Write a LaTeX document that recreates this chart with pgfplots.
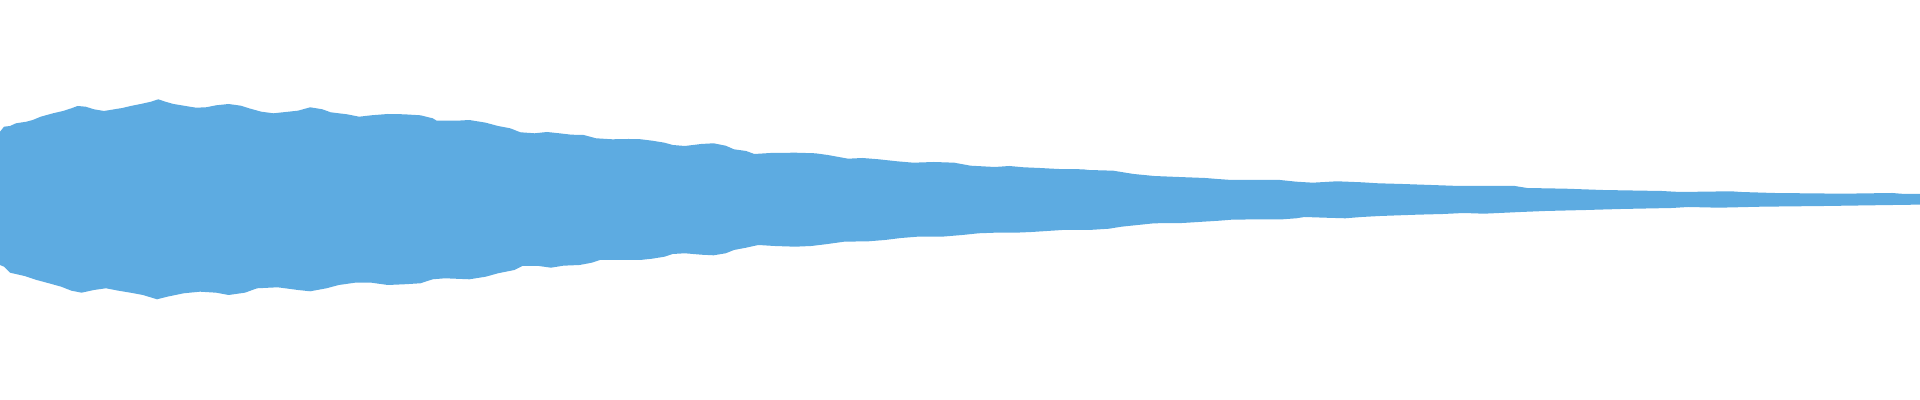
\documentclass[border=0pt]{standalone}
\usepackage{pgfplots}
\pgfplotsset{compat=1.18}
\definecolor{wave}{RGB}{93,171,225}
\begin{document}
\begin{tikzpicture}
\begin{axis}[
  scale only axis, width=19.2cm, height=4cm,
  xmin=0, xmax=1920, ymin=0, ymax=400, y dir=reverse,
  axis line style={draw=none}, ticks=none,
]
\addplot[fill=wave, draw=none] coordinates {
(0,131.7) (4,126.7) (10,126) (16,123.3) (26.5,121.7) (32.7,120) (40.8,116.7) (53,113.3) (63,111) (71.4,108.3) (77.6,106) (85.7,106.7) (93.9,109.3) (104,111) (114.3,109.3) (122.4,108) (130.6,106) (140.8,104) (151,101.7) (158.4,99.3) (165.3,101.7) (173.5,104) (183.7,105.7) (196,107.7) (206,107.3) (216.3,105.3) (228.6,104) (240.8,105.7) (249,108.3) (261.2,111.7) (273.5,113.3) (285.7,112) (298,110.7) (310.2,107.3) (322.4,109.3) (330.6,112.3) (347,114.3) (359.2,116.7) (371.4,115.3) (387.8,114) (404,114.3) (420.4,115.3) (432.7,118.3) (436.7,120.7) (457.1,120.7) (469.4,120) (485.7,122.7) (498,126) (510.2,128.3) (520.4,132.3) (534.7,133.3) (547,132) (559.2,133.3) (571.4,134.7) (583.7,135) (596,138.3) (612.2,139.3) (628.6,139) (640,139.2)
(652.2,140.7) (664.5,142.7) (672.7,145) (684.9,146) (701.2,144) (713.5,143.3) (725.7,145.7) (733.9,149.3) (746.1,151) (754.3,154) (770.6,153) (795.1,152.7) (815.4,153.3) (827.7,155) (848.1,158.7) (862.4,158) (878.7,159.3) (897,161.3) (913.4,162.7) (933.8,162) (954.2,162.7) (970.5,165.7) (995,167) (1009.3,166) (1023.5,167.3) (1039.8,168) (1058.2,169) (1082.7,169.3) (1088.8,170) (1113.3,170.7) (1125.5,172.7) (1133.7,174) (1154.1,176) (1178.6,177) (1205.1,178) (1217.3,179) (1231.6,180) (1280,180)
(1296.3,181.7) (1312.7,182.7) (1337.1,181.3) (1361.6,182.3) (1378,183.3) (1402.4,184) (1431,185) (1459.6,186) (1514.8,186) (1527,188) (1565.7,188.7) (1602.4,190) (1661.6,191) (1680,192) (1731,191.3) (1741.2,192) (1774,193) (1843.3,193.7) (1892.2,193) (1904.5,194) (1920,194)
(1920,204.7) (1914.7,204.7) (1872.4,205.3) (1824.6,206) (1761.6,206.7) (1718.9,207.7) (1688.2,207) (1671.8,208) (1620.8,209) (1586.1,210) (1545.3,211) (1520.8,212) (1484,213.7) (1463.7,213) (1443.3,214) (1416.7,214.7) (1380,216) (1361.6,217) (1345.3,218.3) (1324.9,217.7) (1304.5,217) (1296.3,218.3) (1280,219.5)
(1260.4,219.3) (1231.6,219.7) (1219.4,220.7) (1203.1,221.7) (1182.7,223) (1154.1,223.3) (1137.8,225) (1121.4,226.7) (1109.2,228.7) (1088.8,230) (1062.3,230) (1031.7,232) (1015.4,232.7) (995,232.7) (978.6,233.3) (962.3,235) (941.9,236.7) (917.4,236.7) (901.1,238) (884.8,240) (868.5,241.3) (844,241.7) (827.7,244) (811.4,246) (795.1,246.7) (774.6,246) (758.3,245) (746.1,247.7) (733.9,250) (725.7,253.3) (713.5,255.3) (701.2,254.7) (684.9,253.3) (672.7,254) (664.5,256.7) (652.2,258.7) (640,260)
(600,260) (591.8,262.7) (579.6,265) (563.3,265.7) (551,267.7) (538.8,266) (522.4,266) (514.3,270) (498,273.3) (485.7,276.7) (469.4,279.3) (444.9,278.3) (432.7,279.3) (420.4,283.3) (404.1,284.3) (387.8,285) (371.4,282.7) (355.1,282.7) (338.8,285) (326.5,288.3) (310.2,291.3) (298,290) (277.6,287.3) (257.1,288.3) (244.9,292.7) (228.6,295) (216.3,292.7) (200,291.7) (183.7,293.3) (167.3,296.7) (157.1,299.3) (142.9,295) (130.6,292.7) (118.4,290.7) (106,288.3) (93.9,290) (81.6,292.7) (71.4,290.7) (61.2,286.7) (49,283.3) (36.7,280) (24.5,276) (10,272.7) (4,266.7) (0,265)
};
\end{axis}
\end{tikzpicture}
\end{document}
